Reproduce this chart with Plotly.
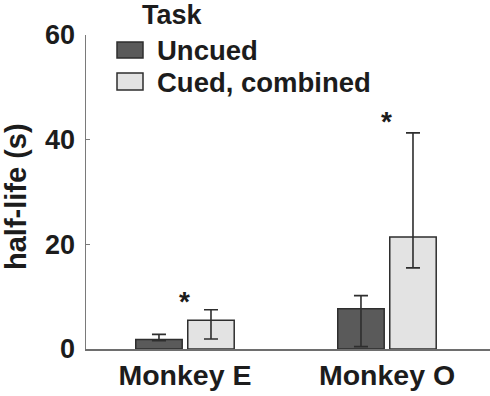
import plotly.graph_objects as go

categories = ["Monkey E", "Monkey O"]
series_names = ["Uncued", "Cued, combined"]

uncued_vals = [1.8, 7.7]
uncued_hi = [2.8, 10.2]
uncued_lo = [1.6, 0.45]

cued_vals = [5.5, 21.4]
cued_hi = [7.5, 41.3]
cued_lo = [1.9, 15.5]

sig_y = [10.3, 44.6]
y_ticks = [0, 20, 40, 60]

FONT = "Liberation Sans, Arial, Helvetica, sans-serif"
TXT = "#1c1c1c"
EDGE = "#2e2e2e"
colors = ["#5a5a5a", "#e3e3e3"]

fig = go.Figure()
for name, vals, hi, lo, col in [
    (series_names[0], uncued_vals, uncued_hi, uncued_lo, colors[0]),
    (series_names[1], cued_vals, cued_hi, cued_lo, colors[1]),
]:
    fig.add_trace(go.Bar(
        x=categories, y=vals, name=name,
        marker=dict(color=col, line=dict(color=EDGE, width=1.5)),
        error_y=dict(type="data", symmetric=False,
                     array=[h - v for h, v in zip(hi, vals)],
                     arrayminus=[v - l for v, l in zip(vals, lo)],
                     color=EDGE, thickness=1.6, width=7),
        showlegend=False,
    ))

# significance asterisks
for cat, yv in zip(categories, sig_y):
    fig.add_annotation(x=cat, y=yv, xref="x", yref="y", text="*",
                       showarrow=False, xshift=0, yshift=-6,
                       font=dict(family=FONT, size=28, color=TXT, weight="bold"))

# custom legend
W, H = 404, 314
def px_x(p):
    return (p - 86) / W
def px_y(p):
    return (349 - p) / H

fig.add_annotation(x=px_x(140), y=px_y(15), xref="paper", yref="paper",
                   text="Task", showarrow=False, xanchor="left", yanchor="middle",
                   font=dict(family=FONT, size=27, color=TXT, weight="bold"))
rows = [(42, 58, 50), (73, 90, 82)]
for (top, bot, cy), name, col in zip(rows, series_names, colors):
    fig.add_shape(type="rect", xref="paper", yref="paper",
                  x0=px_x(117), x1=px_x(143), y0=px_y(bot), y1=px_y(top),
                  fillcolor=col, line=dict(color=EDGE, width=1.5))
    fig.add_annotation(x=px_x(155), y=px_y(cy), xref="paper", yref="paper",
                       text=name, showarrow=False, xanchor="left", yanchor="middle",
                       font=dict(family=FONT, size=27.5, color=TXT, weight="bold"))

# y-axis title
fig.add_annotation(x=px_x(16), y=px_y(197), xref="paper", yref="paper",
                   text="half-life (s)", textangle=-90, showarrow=False,
                   xanchor="center", yanchor="middle",
                   font=dict(family=FONT, size=29, color=TXT, weight="bold"))

fig.update_layout(
    width=490, height=396,
    margin=dict(l=86, r=0, t=35, b=47),
    paper_bgcolor="white", plot_bgcolor="white",
    barmode="group", bargap=0.485, bargroupgap=0.107,
    font=dict(family=FONT, color=TXT),
    xaxis=dict(range=[-0.49, 1.51], showline=True, linecolor="#6e6e6e", linewidth=1.5,
               ticks="", showgrid=False, zeroline=False, automargin=False,
               tickfont=dict(family=FONT, size=28.5, color=TXT, weight="bold")),
    yaxis=dict(range=[0, 60], tickvals=y_ticks, showline=True, linecolor="#7a7a7a",
               linewidth=1.5, ticks="inside", ticklen=4, tickcolor="#7a7a7a",
               showgrid=False, zeroline=False, ticklabelstandoff=4, automargin=False,
               tickfont=dict(family=FONT, size=27, color=TXT, weight="bold")),
)

fig.write_html("out.html",
               config={"displayModeBar": False, "staticPlot": True},
               post_script="document.body.style.margin='0';document.body.style.overflow='hidden';")
